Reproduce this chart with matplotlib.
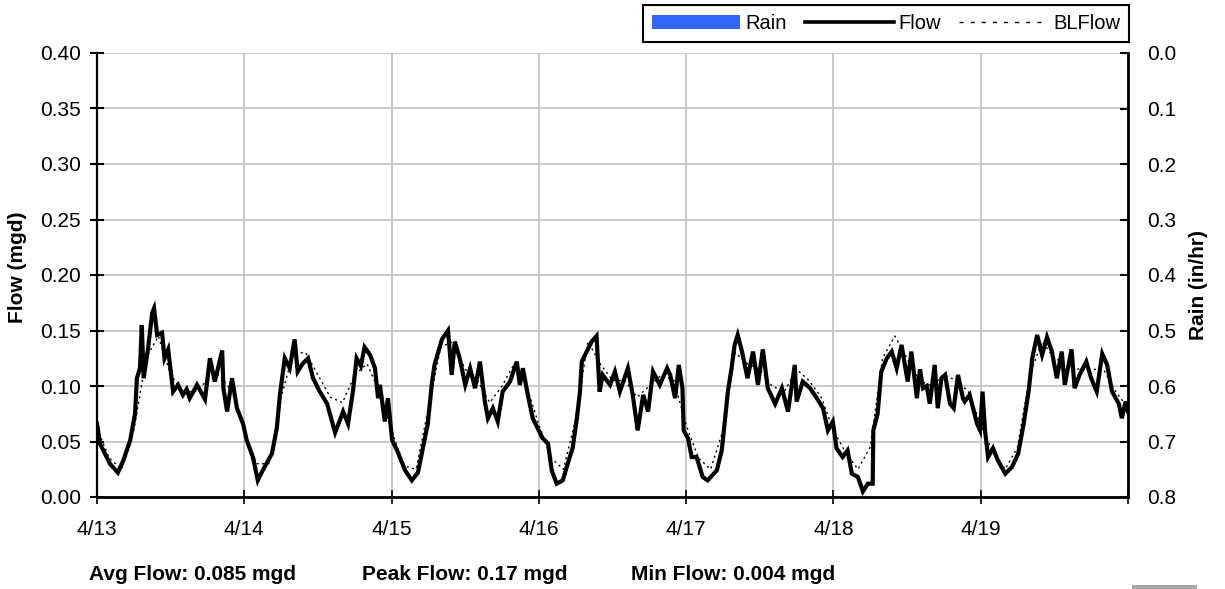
import matplotlib
matplotlib.use("Agg")
import matplotlib.pyplot as plt
from matplotlib.patches import Patch, Rectangle
from matplotlib.lines import Line2D

plt.rcParams['font.family'] = ['Liberation Sans', 'DejaVu Sans']

# DATA (hours since 4/13 00:00)

flow_hours = [
    0, 0.5, 2.1, 3.4, 4.3, 5.4, 6.2, 6.5, 7.0, 7.3, 7.6, 8.3, 9.0, 9.3, 9.8, 10.6, 11.0, 11.6,
    12.4, 13.2, 14.0, 14.6, 15.1, 16.3, 17.6, 18.4, 19.2, 20.4, 20.6, 21.2, 22.0, 22.8, 23.8,
    24.4, 25.4, 26.2, 27.0, 28.5, 29.3, 29.8, 30.6, 31.4, 32.2, 32.7, 33.5, 34.4, 35.2, 36.3,
    37.5, 38.8, 40.1, 40.9, 41.7, 42.3, 43.0, 43.6, 44.5, 45.3, 45.8, 46.1, 46.9, 47.4,
    48.1, 48.9, 50.2, 51.3, 52.3, 53.1, 53.9, 54.6, 55.0, 56.2, 57.2, 57.8, 58.3, 59.1, 60.0,
    60.8, 61.6, 62.4, 63.2, 63.7, 64.5, 65.3, 66.1, 67.3, 68.4, 68.9, 69.4, 70.2, 71.0, 71.8,
    72.6, 73.5, 74.1, 74.9, 75.9, 76.7, 77.5, 78.2, 78.7, 79.0, 79.8, 80.6, 81.4, 81.9, 82.4,
    83.6, 84.4, 85.2, 86.5, 87.3, 88.1, 89.0, 89.8, 90.6, 91.7, 92.9, 93.4, 94.2, 94.8, 95.4, 95.6,
    96.3, 96.9, 97.7, 98.7, 99.5, 101.0, 101.8, 102.3, 102.8, 103.4, 103.9, 104.4, 105.1, 106.0,
    106.9, 107.7, 108.5, 109.3, 110.5, 111.6, 112.6, 113.7, 114.0, 115.0, 116.2, 117.3, 118.3,
    119.1, 119.9,
    120.5, 121.5, 122.3, 123.0, 124.0, 124.8, 125.6, 126.4, 126.5, 127.2, 127.8, 128.7, 129.5,
    130.3, 131.1, 132.1, 132.7, 133.6, 134.1, 134.6, 135.2, 135.7, 136.5, 137.0, 137.6, 138.2,
    139.0, 139.6, 140.3, 141.1, 141.4, 142.2, 143.4, 143.9,
    144.3, 144.7, 145.2, 146.0, 146.8, 148.0, 149.1, 150.1, 151.0, 151.8, 152.4, 153.2, 154.0,
    154.8, 155.6, 156.4, 157.2, 157.7, 158.8, 159.3, 160.1, 161.2, 162.0, 162.9, 163.8, 164.6,
    165.4, 166.5, 167.0, 167.6, 168.0,
]

flow_mgd = [
    0.066, 0.048, 0.030, 0.022, 0.033, 0.051, 0.075, 0.107, 0.116, 0.155, 0.107, 0.133, 0.166, 0.170, 0.146, 0.148, 0.125, 0.133,
    0.095, 0.101, 0.092, 0.097, 0.089, 0.101, 0.088, 0.125, 0.104, 0.132, 0.098, 0.077, 0.107, 0.080, 0.066,
    0.051, 0.036, 0.015, 0.024, 0.039, 0.062, 0.092, 0.125, 0.116, 0.142, 0.113, 0.120, 0.125, 0.107, 0.095,
    0.084, 0.058, 0.077, 0.066, 0.095, 0.125, 0.118, 0.135, 0.128, 0.116, 0.089, 0.101, 0.068, 0.089,
    0.051, 0.042, 0.024, 0.015, 0.022, 0.044, 0.066, 0.104, 0.119, 0.142, 0.150, 0.110, 0.140, 0.125, 0.101,
    0.116, 0.098, 0.122, 0.086, 0.071, 0.080, 0.068, 0.095, 0.104, 0.122, 0.101, 0.116, 0.092, 0.071, 0.062,
    0.053, 0.048, 0.024, 0.012, 0.015, 0.030, 0.044, 0.071, 0.095, 0.122, 0.131, 0.140, 0.145, 0.095, 0.110,
    0.101, 0.113, 0.095, 0.116, 0.092, 0.060, 0.092, 0.077, 0.113, 0.101, 0.116, 0.110, 0.089, 0.119, 0.098, 0.060,
    0.053, 0.036, 0.036, 0.018, 0.015, 0.024, 0.042, 0.068, 0.095, 0.116, 0.137, 0.146, 0.131, 0.107,
    0.131, 0.101, 0.133, 0.098, 0.084, 0.098, 0.077, 0.119, 0.086, 0.104, 0.098, 0.089, 0.080,
    0.060, 0.068,
    0.044, 0.036, 0.042, 0.021, 0.018, 0.005, 0.012, 0.012, 0.060, 0.075, 0.113, 0.125, 0.131,
    0.116, 0.137, 0.104, 0.131, 0.089, 0.115, 0.098, 0.100, 0.084, 0.119, 0.080, 0.107, 0.110,
    0.084, 0.080, 0.110, 0.089, 0.086, 0.092, 0.066, 0.060,
    0.095, 0.060, 0.036, 0.044, 0.033, 0.021, 0.027, 0.039, 0.066, 0.095, 0.125, 0.146, 0.128,
    0.144, 0.131, 0.107, 0.131, 0.101, 0.133, 0.098, 0.110, 0.122, 0.107, 0.095, 0.129, 0.119,
    0.095, 0.084, 0.071, 0.086, 0.077,
]

bl_hours = list(range(0, 169, 2))
bl_mgd = [
    0.062, 0.035, 0.025, 0.060, 0.125, 0.145, 0.110, 0.095, 0.095, 0.105, 0.110, 0.095,
    0.060, 0.030, 0.030, 0.090, 0.130, 0.130, 0.110, 0.090, 0.085, 0.110, 0.120, 0.095,
    0.060, 0.028, 0.025, 0.080, 0.135, 0.140, 0.115, 0.105, 0.085, 0.100, 0.120, 0.100,
    0.065, 0.035, 0.025, 0.070, 0.140, 0.120, 0.105, 0.105, 0.090, 0.100, 0.110, 0.105,
    0.065, 0.035, 0.025, 0.060, 0.130, 0.120, 0.115, 0.100, 0.095, 0.115, 0.105, 0.090,
    0.060, 0.040, 0.025, 0.045, 0.125, 0.145, 0.125, 0.105, 0.100, 0.110, 0.105, 0.095,
    0.065, 0.040, 0.025, 0.045, 0.110, 0.140, 0.125, 0.120, 0.115, 0.115, 0.115, 0.095,
    0.080,
]

rain_days = [0, 1, 2, 3, 4, 5, 6]
rain_inhr = [0.0, 0.0, 0.0, 0.0, 0.0, 0.0, 0.0]

day_ticks = [0, 1, 2, 3, 4, 5, 6, 7]
day_labels = ['4/13', '4/14', '4/15', '4/16', '4/17', '4/18', '4/19', '']

summary = ['Avg Flow: 0.085 mgd', 'Peak Flow: 0.17 mgd', 'Min Flow: 0.004 mgd']

# FIGURE

W, H = 1225, 589
fig = plt.figure(figsize=(W / 100, H / 100), dpi=100)
ax = fig.add_axes([97 / W, 1 - 497 / H, (1128 - 97) / W, (497 - 53) / H])
ax2 = ax.twinx()

ax.plot([h / 24 for h in bl_hours], bl_mgd, color='black', lw=1.0,
        linestyle=(0, (1.5, 2.5)), zorder=3)
ax.plot([h / 24 for h in flow_hours], flow_mgd, color='black', lw=3.0,
        solid_joinstyle='miter', zorder=4)

ax2.bar(rain_days, rain_inhr, width=1 / 24, color='#3366FF', align='edge')

ax.set_xlim(0, 7)
ax.set_ylim(0, 0.40)
ax.set_yticks([i * 0.05 for i in range(9)])
ax.set_yticklabels([f'{i * 0.05:.2f}' for i in range(9)])
ax.set_xticks(day_ticks)
ax.set_xticklabels(day_labels)

ax2.set_ylim(0.8, 0.0)
ax2.set_yticks([i * 0.1 for i in range(9)])
ax2.set_yticklabels([f'{i * 0.1:.1f}' for i in range(9)])

ax.grid(True, color='#c0c0c0', lw=1.2)
ax.set_axisbelow(True)

for a in (ax, ax2):
    a.spines['top'].set_visible(False)
ax.spines['left'].set_linewidth(1.6)
ax.spines['bottom'].set_linewidth(2.0)
ax2.spines['right'].set_linewidth(2.0)
ax2.spines['left'].set_visible(False)
ax2.spines['bottom'].set_visible(False)

ax.tick_params(axis='y', direction='inout', length=9.5, width=1.5, pad=6.8,
               labelsize=15)
ax.tick_params(axis='x', direction='inout', length=9.5, width=1.2, pad=12,
               labelsize=15)
ax2.tick_params(axis='y', direction='in', length=5.5, width=1.5, pad=13.7,
                labelsize=15)

ax.set_ylabel('Flow (mgd)', fontsize=15, fontweight='bold')
ax.yaxis.set_label_coords((27 - 97) / 1031, (497 - 267) / 444)
ax2.set_ylabel('Rain (in/hr)', fontsize=15, fontweight='bold')
ax2.yaxis.set_label_coords((1189 - 97) / 1031, (497 - 285) / 444)

handles = [
    Patch(facecolor='#3366FF', edgecolor='none'),
    Line2D([], [], color='black', lw=2.6),
    Line2D([], [], color='black', lw=1.0, linestyle=(0, (3, 5))),
]
leg = fig.legend(handles, ['Rain', 'Flow', 'BLFlow'], ncol=3,
                 loc='upper right', bbox_to_anchor=(1129 / W, 1 - 5 / H),
                 fontsize=14.5, frameon=True, fancybox=False, framealpha=1,
                 edgecolor='black', handlelength=4.4, handletextpad=0.25,
                 columnspacing=0.9, borderaxespad=0, borderpad=0.45)
leg.get_frame().set_linewidth(1.5)

for x0, txt in zip([89, 362, 631], summary):
    fig.text(x0 / W, 1 - 580 / H, txt, fontsize=15, fontweight='bold',
             ha='left', va='baseline')

# small grey strip in bottom-right corner
fig.patches.append(Rectangle((1132 / W, 0), 65 / W, 4 / H, transform=fig.transFigure,
                             facecolor='#a8a8a8', edgecolor='none'))

fig.savefig('out.png', dpi=100)
